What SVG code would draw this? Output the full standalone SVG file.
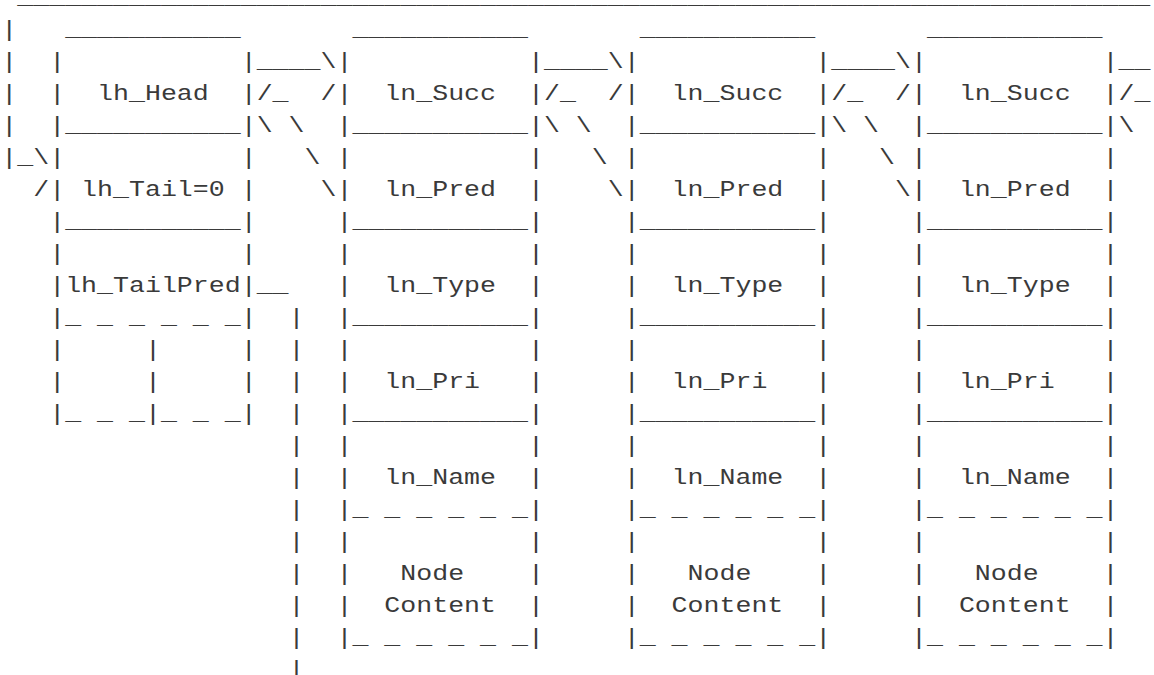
<svg xmlns="http://www.w3.org/2000/svg" width="1154" height="675" viewBox="0 0 1154 675" xml:space="preserve">
<style>
text{font-family:"Liberation Mono","Courier New",monospace;font-size:26.6px;fill:#3a3a3a;white-space:pre}
</style>
<rect width="1154" height="675" fill="#fff"/>
<g transform="scale(1,0.83)">
<g id="connectors">
<text x="17.26" y="4.819">_______________________________________________________________________</text>
<text x="1.3" y="43.373">|</text>
<text x="1.3" y="81.928">|</text>
<text x="1.3" y="120.482">|</text>
<text x="1.3" y="159.036">|</text>
<text x="1.3" y="197.590">|_\</text>
<text x="33.22" y="236.145">/</text>
<text x="256.66" y="81.928">____\</text>
<text x="256.66" y="120.482">/_  /</text>
<text x="256.66" y="159.036">\ \</text>
<text x="256.66" y="197.590">   \</text>
<text x="256.66" y="236.145">    \</text>
<text x="543.94" y="81.928">____\</text>
<text x="543.94" y="120.482">/_  /</text>
<text x="543.94" y="159.036">\ \</text>
<text x="543.94" y="197.590">   \</text>
<text x="543.94" y="236.145">    \</text>
<text x="831.22" y="81.928">____\</text>
<text x="831.22" y="120.482">/_  /</text>
<text x="831.22" y="159.036">\ \</text>
<text x="831.22" y="197.590">   \</text>
<text x="831.22" y="236.145">    \</text>
<text x="1118.5" y="81.928">__</text>
<text x="1118.5" y="120.482">/_</text>
<text x="1118.5" y="159.036">\</text>
<text x="256.66" y="351.807">__</text>
<text x="288.58" y="390.361">|</text>
<text x="288.58" y="428.916">|</text>
<text x="288.58" y="467.470">|</text>
<text x="288.58" y="506.024">|</text>
<text x="288.58" y="544.578">|</text>
<text x="288.58" y="583.133">|</text>
<text x="288.58" y="621.687">|</text>
<text x="288.58" y="660.241">|</text>
<text x="288.58" y="698.795">|</text>
<text x="288.58" y="737.349">|</text>
<text x="288.58" y="775.904">|</text>
<text x="288.58" y="814.458">|</text>
</g>
<g id="list-header">
<text x="65.14" y="43.373">___________</text>
<text x="49.18" y="81.928">|           |</text>
<text x="49.18" y="120.482">|  lh_Head  |</text>
<text x="49.18" y="159.036">|___________|</text>
<text x="49.18" y="197.590">|           |</text>
<text x="49.18" y="236.145">| lh_Tail=0 |</text>
<text x="49.18" y="274.699">|___________|</text>
<text x="49.18" y="313.253">|           |</text>
<text x="49.18" y="351.807">|lh_TailPred|</text>
<text x="49.18" y="390.361">|_ _ _ _ _ _|</text>
<text x="49.18" y="428.916">|     |     |</text>
<text x="49.18" y="467.470">|     |     |</text>
<text x="49.18" y="506.024">|_ _ _|_ _ _|</text>
</g>
<g id="node-1">
<text x="352.42" y="43.373">___________</text>
<text x="336.46" y="81.928">|           |</text>
<text x="336.46" y="120.482">|  ln_Succ  |</text>
<text x="336.46" y="159.036">|___________|</text>
<text x="336.46" y="197.590">|           |</text>
<text x="336.46" y="236.145">|  ln_Pred  |</text>
<text x="336.46" y="274.699">|___________|</text>
<text x="336.46" y="313.253">|           |</text>
<text x="336.46" y="351.807">|  ln_Type  |</text>
<text x="336.46" y="390.361">|___________|</text>
<text x="336.46" y="428.916">|           |</text>
<text x="336.46" y="467.470">|  ln_Pri   |</text>
<text x="336.46" y="506.024">|___________|</text>
<text x="336.46" y="544.578">|           |</text>
<text x="336.46" y="583.133">|  ln_Name  |</text>
<text x="336.46" y="621.687">|_ _ _ _ _ _|</text>
<text x="336.46" y="660.241">|           |</text>
<text x="336.46" y="698.795">|   Node    |</text>
<text x="336.46" y="737.349">|  Content  |</text>
<text x="336.46" y="775.904">|_ _ _ _ _ _|</text>
</g>
<g id="node-2">
<text x="639.7" y="43.373">___________</text>
<text x="623.74" y="81.928">|           |</text>
<text x="623.74" y="120.482">|  ln_Succ  |</text>
<text x="623.74" y="159.036">|___________|</text>
<text x="623.74" y="197.590">|           |</text>
<text x="623.74" y="236.145">|  ln_Pred  |</text>
<text x="623.74" y="274.699">|___________|</text>
<text x="623.74" y="313.253">|           |</text>
<text x="623.74" y="351.807">|  ln_Type  |</text>
<text x="623.74" y="390.361">|___________|</text>
<text x="623.74" y="428.916">|           |</text>
<text x="623.74" y="467.470">|  ln_Pri   |</text>
<text x="623.74" y="506.024">|___________|</text>
<text x="623.74" y="544.578">|           |</text>
<text x="623.74" y="583.133">|  ln_Name  |</text>
<text x="623.74" y="621.687">|_ _ _ _ _ _|</text>
<text x="623.74" y="660.241">|           |</text>
<text x="623.74" y="698.795">|   Node    |</text>
<text x="623.74" y="737.349">|  Content  |</text>
<text x="623.74" y="775.904">|_ _ _ _ _ _|</text>
</g>
<g id="node-3">
<text x="926.98" y="43.373">___________</text>
<text x="911.02" y="81.928">|           |</text>
<text x="911.02" y="120.482">|  ln_Succ  |</text>
<text x="911.02" y="159.036">|___________|</text>
<text x="911.02" y="197.590">|           |</text>
<text x="911.02" y="236.145">|  ln_Pred  |</text>
<text x="911.02" y="274.699">|___________|</text>
<text x="911.02" y="313.253">|           |</text>
<text x="911.02" y="351.807">|  ln_Type  |</text>
<text x="911.02" y="390.361">|___________|</text>
<text x="911.02" y="428.916">|           |</text>
<text x="911.02" y="467.470">|  ln_Pri   |</text>
<text x="911.02" y="506.024">|___________|</text>
<text x="911.02" y="544.578">|           |</text>
<text x="911.02" y="583.133">|  ln_Name  |</text>
<text x="911.02" y="621.687">|_ _ _ _ _ _|</text>
<text x="911.02" y="660.241">|           |</text>
<text x="911.02" y="698.795">|   Node    |</text>
<text x="911.02" y="737.349">|  Content  |</text>
<text x="911.02" y="775.904">|_ _ _ _ _ _|</text>
</g>
</g>
</svg>
